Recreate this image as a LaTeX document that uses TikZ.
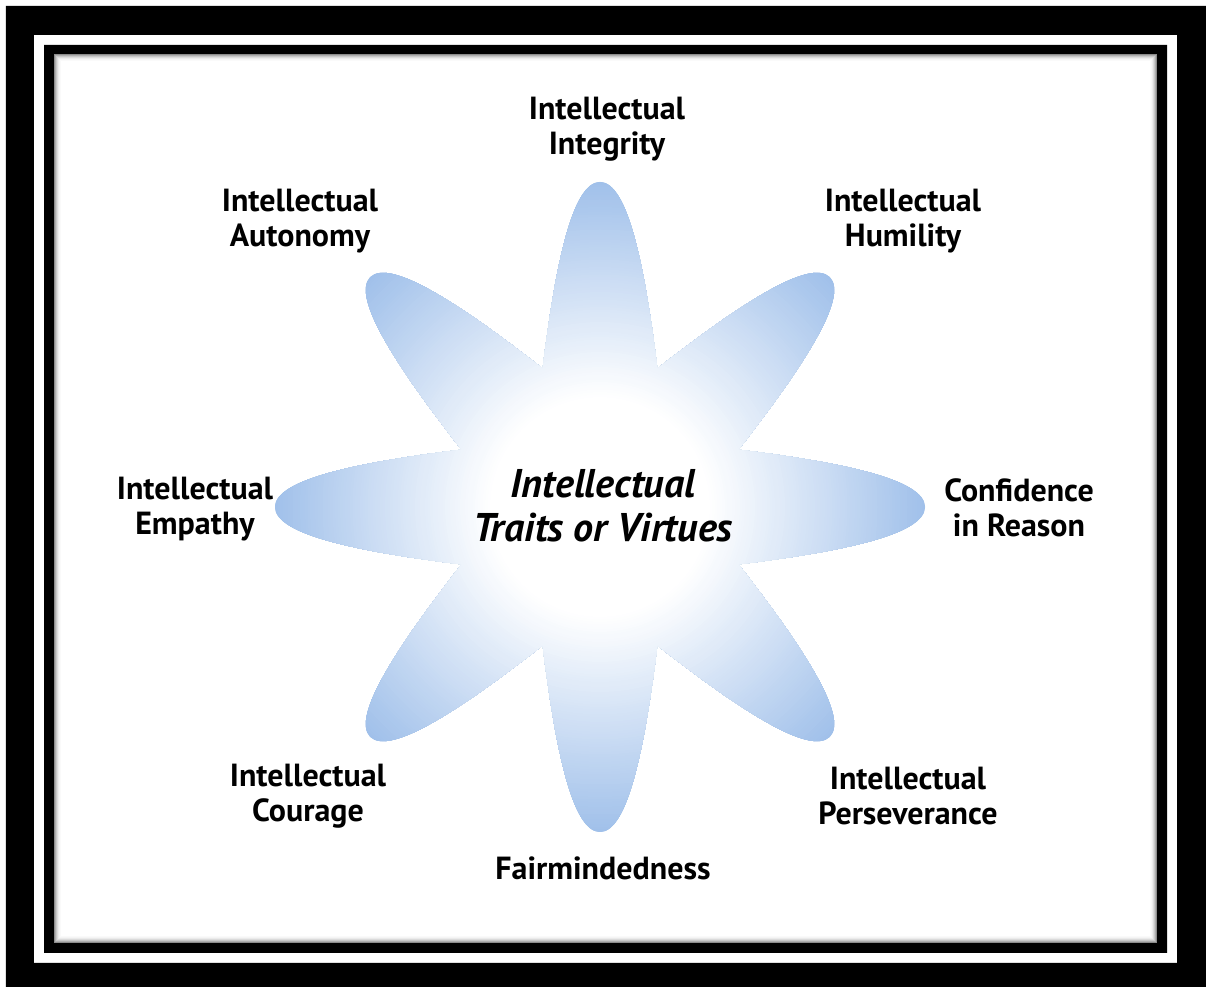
\documentclass[tikz,border=0pt]{standalone}
\usepackage{fontspec}
\setmainfont{PT Sans}
\usepackage{tikz}

\definecolor{petalblue}{RGB}{160,192,234}

\begin{document}
\begin{tikzpicture}[trait/.style={font=\fontsize{18.2}{20}\selectfont\bfseries,align=center},
	core/.style={font=\fontsize{22.8}{25}\selectfont\bfseries\itshape,align=center}]
	\useasboundingbox (0,0) rectangle (24.12,19.74);
	\fill[white] (0,0) rectangle (24.12,19.74);
	
	% frame
	\fill[black,even odd rule] (0.12,0) rectangle (24.12,19.62) (0.68,0.48) rectangle (23.54,19.04);
	\fill[black,even odd rule] (0.88,0.68) rectangle (23.34,18.84) (1.08,0.88) rectangle (23.14,18.66);
	\foreach \d/\sh in {0.01/45,0.03/32,0.05/22,0.07/14,0.09/8,0.11/4,0.13/2}
		\draw[black!\sh,line width=0.02cm] (1.08+\d,0.88+\d) rectangle (23.14-\d,18.66-\d);
	
	% flower, shaded ring by ring
	\coordinate (hub) at (12,9.6);
	\begin{scope}[shift={(hub)}]
		\clip (-22.5:3)
		\foreach \a in {0,45,...,315}
			{ .. controls ({\a-10.6}:4.88) and ({\a-4.9}:6.52) .. (\a:6.5)
			  .. controls ({\a+4.9}:6.52) and ({\a+10.6}:4.88) .. ({\a+22.5}:3) } -- cycle;
		\foreach \i [evaluate=\i as \p using {int(max(0,min(100,(\i/20-2.2)/4.3*100)))}] in {132,131,...,1}
			\fill[petalblue!\p!white] (0,0) circle ({\i/20});
	\end{scope}
	
	\node[core] (virtues) at (12.06,9.62) {Intellectual\\Traits or Virtues};
	
	\foreach \x/\y/\nm/\txt in
		{12.14/17.16/integrity/{Intellectual\\Integrity},
		 6.00/15.32/autonomy/{Intellectual\\Autonomy},
		 18.06/15.32/humility/{Intellectual\\Humility},
		 3.90/9.56/empathy/{Intellectual\\Empathy},
		 20.38/9.58/confidence/{Confidence\\in Reason},
		 6.16/3.82/courage/{Intellectual\\Courage},
		 18.16/3.82/perseverance/{Intellectual\\Perseverance},
		 12.06/2.38/fairminded/{Fairmindedness}}
		\node[trait] (\nm) at (\x,\y) {\txt};
\end{tikzpicture}
\end{document}
